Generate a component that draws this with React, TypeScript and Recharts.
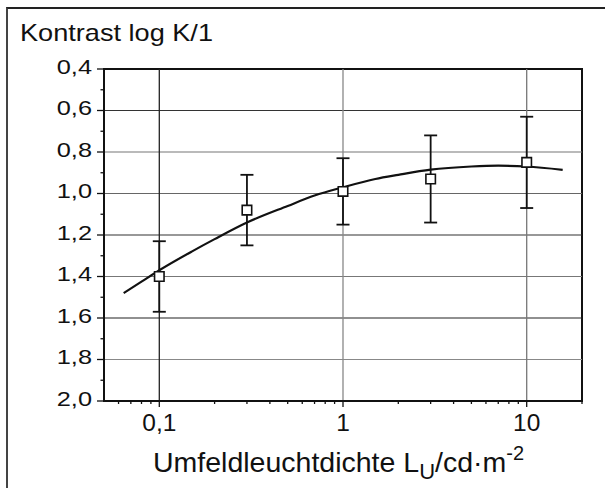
import React from 'react';
import {
  ComposedChart,
  Line,
  Scatter,
  ErrorBar,
  XAxis,
  YAxis,
  ZAxis,
  ReferenceLine,
  ReferenceArea,
} from 'recharts';

// measured points (mean and whisker ends, log K/1)
const luminance = [0.1, 0.3, 1, 3, 10];
const meanK = [1.4, 1.08, 0.99, 0.93, 0.85];
const whiskerTop = [1.23, 0.91, 0.83, 0.72, 0.63];
const whiskerBottom = [1.57, 1.25, 1.15, 1.14, 1.07];

// fitted curve
const fitX = [0.064, 0.08, 0.1, 0.15, 0.2, 0.3, 0.5, 0.7, 1, 1.5, 2, 3, 5, 7, 10, 15.7];
const fitK = [1.48, 1.425, 1.37, 1.28, 1.22, 1.14, 1.06, 1.01, 0.97, 0.93, 0.91, 0.885, 0.87, 0.866, 0.87, 0.886];

// axis ticks
const xMajorTicks = [0.1, 1, 10];
const xMinorTicks = [0.06, 0.07, 0.08, 0.09, 0.2, 0.3, 0.4, 0.5, 0.6, 0.7, 0.8, 0.9, 2, 3, 4, 5, 6, 7, 8, 9, 20];
const yMajorTicks = [0.4, 0.6, 0.8, 1.0, 1.2, 1.4, 1.6, 1.8, 2.0];
const yMinorTicks = [0.5, 0.7, 0.9, 1.1, 1.3, 1.5, 1.7, 1.9];
const xLabelTicks = ['0,1', '1', '10'];

const points = luminance.map((x, i) => ({
  x,
  y: meanK[i],
  err: [meanK[i] - whiskerTop[i], whiskerBottom[i] - meanK[i]],
}));
const fit = fitX.map((x, i) => ({ x, y: fitK[i] }));

const FONT = '"Liberation Sans", Arial, sans-serif';
const INK = '#111';

// scanned grid has uneven shading
const hShade: Record<string, string> = {
  '0.6': '#333', '0.8': '#777', '1': '#666', '1.2': '#333', '1.4': '#777', '1.6': '#222', '1.8': '#888',
};
const vShade: Record<string, string> = { '0.1': '#222', '1': '#888', '10': '#777' };

const fmtY = (v: number) => v.toFixed(1).replace('.', ',');

const XTick = (props: any) => {
  const { x, y, payload } = props;
  const v = payload.value;
  const idx = xMajorTicks.indexOf(v);
  const major = idx >= 0;
  return (
    <g>
      <line x1={x} x2={x} y1={y} y2={y + (major ? 6 : 3)} stroke={INK} strokeWidth={1.3} />
      {major && (
        <text x={x} y={y + 29.5} textAnchor="middle" fontSize={24.5} fontFamily={FONT} fill={INK}>
          {xLabelTicks[idx]}
        </text>
      )}
    </g>
  );
};

const YTick = (props: any) => {
  const { x, y, payload } = props;
  const v = payload.value;
  const major = yMajorTicks.some((t) => Math.abs(t - v) < 1e-6);
  return (
    <g>
      <line x1={x - (major ? 7 : 3.5)} x2={x} y1={y} y2={y} stroke={INK} strokeWidth={1.3} />
      {major && (
        <g transform={`translate(${x - 12},${y + 4.8}) scale(1.3,1)`}>
          <text x={0} y={0} textAnchor="end" fontSize={19.5} fontFamily={FONT} fill={INK}>
            {fmtY(v)}
          </text>
        </g>
      )}
    </g>
  );
};

const YTitle = (props: any) => {
  const vb = props.viewBox || { x: 0, y: 69 };
  return (
    <g transform={`translate(${vb.x + 20},${vb.y - 28}) scale(1.18,1)`}>
      <text x={0} y={0} fontSize={23} fontFamily={FONT} fill={INK}>
        Kontrast log K/1
      </text>
    </g>
  );
};

const XTitle = (props: any) => {
  const vb = props.viewBox || { x: 104, y: 401, width: 478 };
  return (
    <text x={vb.x + 49} y={vb.y + 71} fontSize={28.5} fontFamily={FONT} fill={INK}>
      Umfeldleuchtdichte L
      <tspan fontSize={22} dy={7}>U</tspan>
      <tspan dy={-7}>/cd·m</tspan>
      <tspan fontSize={20} dy={-12}>-2</tspan>
    </text>
  );
};

export default function App() {
  return (
    <div style={{ position: 'absolute', left: 0, top: 0, width: 605, height: 488, overflow: 'hidden', background: '#fff' }}>
      <div
        style={{
          position: 'absolute',
          left: 6,
          top: 7,
          width: 640,
          height: 520,
          borderTop: '2px solid #222',
          borderLeft: '2px solid #444',
        }}
      />
      <div style={{ position: 'absolute', left: 0, top: 0 }}>
        <ComposedChart width={605} height={488} margin={{ top: 69, right: 23, bottom: 0, left: 0 }}>
          <XAxis
            type="number"
            dataKey="x"
            scale="log"
            domain={[0.05, 20]}
            allowDataOverflow
            ticks={[...xMinorTicks, ...xMajorTicks].sort((a, b) => a - b)}
            interval={0}
            tickSize={0}
            tickMargin={0}
            tickLine={false}
            tick={(p: any) => <XTick {...p} />}
            axisLine={{ stroke: INK, strokeWidth: 2 }}
            height={87}
            label={{ content: (p: any) => <XTitle {...p} /> }}
          />
          <YAxis
            type="number"
            dataKey="y"
            domain={[0.4, 2.0]}
            reversed
            allowDataOverflow
            ticks={[...yMajorTicks, ...yMinorTicks].sort((a, b) => a - b)}
            interval={0}
            tickSize={0}
            tickMargin={0}
            tickLine={false}
            tick={(p: any) => <YTick {...p} />}
            axisLine={{ stroke: INK, strokeWidth: 2 }}
            width={104}
            label={{ content: (p: any) => <YTitle {...p} /> }}
          />
          <ZAxis range={[90, 90]} />
          {yMajorTicks.slice(1, -1).map((v) => (
            <ReferenceLine key={'h' + v} y={v} stroke={hShade[String(v)] || '#555'} strokeWidth={1.2} />
          ))}
          {xMajorTicks.map((v) => (
            <ReferenceLine key={'v' + v} x={v} stroke={vShade[String(v)] || '#555'} strokeWidth={1.3} />
          ))}
          <ReferenceArea x1={0.05} x2={20} y1={0.4} y2={2.0} fill="none" stroke={INK} strokeWidth={2} ifOverflow="visible" />
          <Line
            data={fit}
            dataKey="y"
            type="monotone"
            stroke={INK}
            strokeWidth={2.2}
            dot={false}
            isAnimationActive={false}
          />
          <Scatter data={points} dataKey="y" shape="square" fill="#fff" stroke={INK} strokeWidth={1.6} isAnimationActive={false}>
            <ErrorBar dataKey="err" direction="y" width={6.5} stroke={INK} strokeWidth={1.8} isAnimationActive={false} />
          </Scatter>
        </ComposedChart>
      </div>
    </div>
  );
}
